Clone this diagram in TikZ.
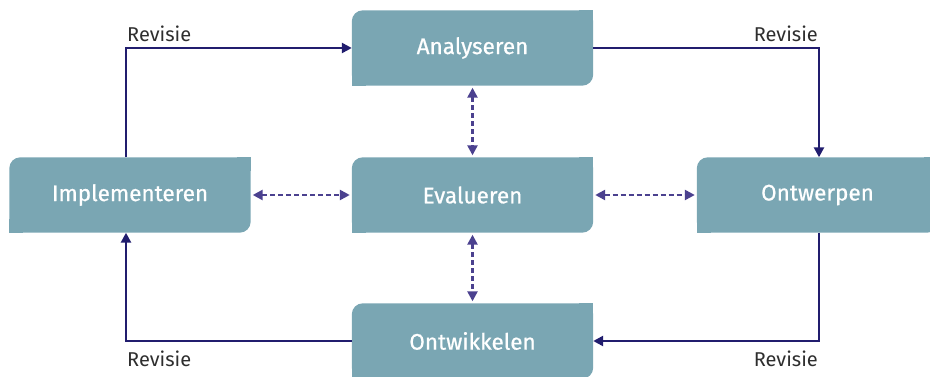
\documentclass[tikz,border=0pt]{standalone}
\usepackage{fontspec}
\setmainfont{Fira Sans}
\newfontfamily\stagefont{Fira Sans}[FakeBold=0.7]
\usepackage{xcolor}
\usetikzlibrary{arrows.meta, backgrounds}

\definecolor{stagefill}{HTML}{7AA6B3}
\definecolor{revline}{HTML}{211D6E}
\definecolor{evalline}{HTML}{4B418F}
\definecolor{labelgray}{HTML}{2E2E2E}

\begin{document}
\begin{tikzpicture}[x=1pt, y=-1pt,
    stage/.style={minimum width=241pt, minimum height=75pt, inner sep=0pt, text=white, font=\stagefont\fontsize{22.5}{25}\selectfont},
    revision/.style={draw=revline, line width=2.4pt, -{Triangle[length=10pt,width=10pt]}},
    link/.style={draw=evalline, line width=2.4pt, dash pattern=on 5pt off 3pt, {Triangle[length=10pt,width=10pt]}-{Triangle[length=10pt,width=10pt]}, shorten <=2pt, shorten >=2pt},
    revlabel/.style={text=labelgray, font=\fontsize{20}{22}\selectfont, inner sep=0pt}
]
    \useasboundingbox (0,0) rectangle (930,377);

    \node[stage] (ana) at (472.5,48) {Analyseren};
    \node[stage] (eva) at (472.5,195) {Evalueren};
    \node[stage] (imp) at (130,195) {Implementeren};
    \node[stage] (ont) at (817.5,195) {Ontwerpen};
    \node[stage] (dev) at (472.5,341) {Ontwikkelen};

    % boxes: rounded top left and bottom right only
    \begin{scope}[on background layer]
        \foreach \n in {ana,eva,imp,ont,dev} {
            \fill[stagefill, rounded corners=11pt] (\n.south west) rectangle (\n.north east);
            \fill[stagefill] (\n.south west) rectangle ([xshift=14pt,yshift=14pt]\n.south west);
            \fill[stagefill] (\n.north east) rectangle ([xshift=-14pt,yshift=-14pt]\n.north east);
        }
    \end{scope}

    % revision cycle
    \draw[revision] ([xshift=-4pt]imp.north) |- node[revlabel, pos=0.5, anchor=south west, yshift=5pt] {Revisie} (ana.west);
    \draw[revision] (ana.east) -| node[revlabel, pos=0.5, anchor=south east, yshift=5pt] {Revisie} ([xshift=1.5pt]ont.north);
    \draw[revision] ([xshift=1.5pt]ont.south) |- node[revlabel, pos=0.5, anchor=north east, yshift=-9pt] {Revisie} (dev.east);
    \draw[revision] (dev.west) -| node[revlabel, pos=0.5, anchor=north west, yshift=-9pt] {Revisie} ([xshift=-4pt]imp.south);

    % evaluation links
    \draw[link] (ana.south) -- (eva.north);
    \draw[link] (eva.south) -- (dev.north);
    \draw[link] (imp.east) -- (eva.west);
    \draw[link] (eva.east) -- (ont.west);
\end{tikzpicture}
\end{document}
